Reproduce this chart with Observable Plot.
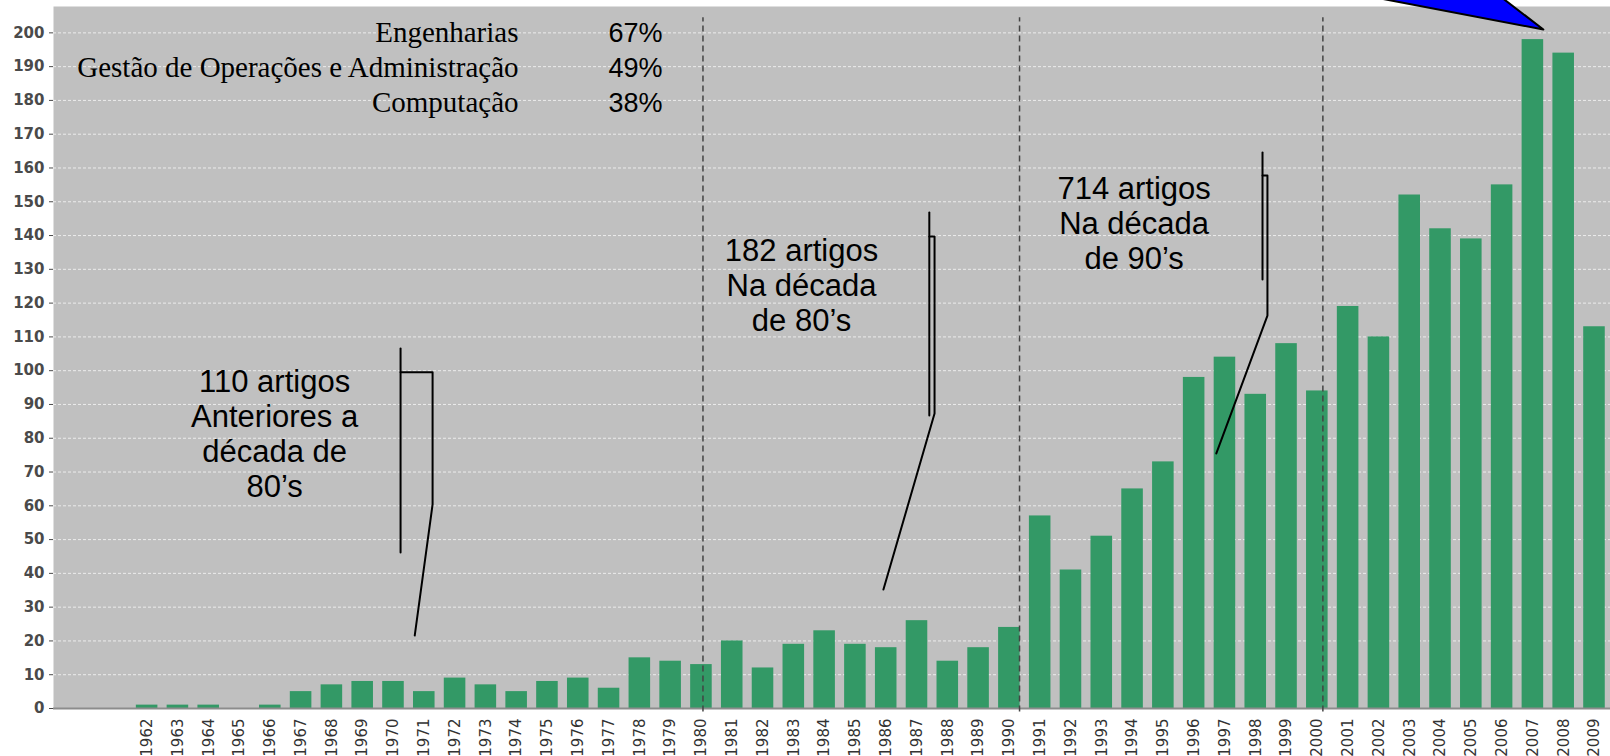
<!DOCTYPE html>
<html>
<head>
<meta charset="utf-8">
<script src="https://cdn.jsdelivr.net/npm/d3@7"></script>
<script src="https://cdn.jsdelivr.net/npm/@observablehq/plot@0.6"></script>
<style>
  html, body { margin: 0; padding: 0; background: #ffffff; overflow: hidden; }
  #chart svg { display: block; }
</style>
</head>
<body>
<div id="chart"></div>
<script>
// ---- data ----
const years = [1962, 1963, 1964, 1965, 1966, 1967, 1968, 1969, 1970, 1971,
               1972, 1973, 1974, 1975, 1976, 1977, 1978, 1979, 1980, 1981,
               1982, 1983, 1984, 1985, 1986, 1987, 1988, 1989, 1990, 1991,
               1992, 1993, 1994, 1995, 1996, 1997, 1998, 1999, 2000, 2001,
               2002, 2003, 2004, 2005, 2006, 2007, 2008, 2009];
const articles = [1, 1, 1, 0, 1, 5, 7, 8, 8, 5,
                  9, 7, 5, 8, 9, 6, 15, 14, 13, 20,
                  12, 19, 23, 19, 18, 26, 14, 18, 24, 57,
                  41, 51, 65, 73, 98, 104, 93, 108, 94, 119,
                  110, 152, 142, 139, 155, 198, 194, 113];
const yTicks = [0, 10, 20, 30, 40, 50, 60, 70, 80, 90, 100,
                110, 120, 130, 140, 150, 160, 170, 180, 190, 200];

const areaNames = ["Engenharias", "Gestão de Operações e Administração", "Computação"];
const areaShares = ["67%", "49%", "38%"];

const periodLabels = ["110 artigos\nAnteriores a\ndécada de\n80’s",
                      "182 artigos\nNa década\nde 80’s",
                      "714 artigos\nNa década\nde 90’s"];

// decade separators (in year units, as drawn)
const decadeMarkers = [1980.05, 1990.33, 2000.18];

// ---- annotation anchors (data units) ----
const periodAnchors = [[1966.14, 81.4], [1983.25, 125.5], [1994.05, 143.9]];
const legendX = [1974.06, 1976.98];
const legendY = [197.25, 186.9, 176.5];

// bracket shapes: [open vertical stroke], [hook + leader line]
const bracketStems = [
  [[1970.23, 106.6], [1970.23, 46.2]],
  [[1987.40, 146.8], [1987.40, 86.7]],
  [[1998.22, 164.6], [1998.22, 127.0]]
];
const bracketHooks = [
  [[1970.23, 99.5], [1971.27, 99.5], [1971.27, 60.4], [1970.69, 21.6]],
  [[1987.40, 139.7], [1987.57, 139.7], [1987.57, 87.3], [1985.91, 35.2]],
  [[1998.22, 157.8], [1998.38, 157.8], [1998.38, 116.3], [1996.72, 75.5]]
];
const arrowShape = [[2000.65, 212.6], [2007.34, 201.0], [2005.68, 212.6], [2000.65, 212.6]];

// ---- tables built from arrays ----
const table = years.map((year, i) => ({year, value: articles[i]}));
const periodTable = periodLabels.map((t, i) => ({text: t, x: periodAnchors[i][0], y: periodAnchors[i][1]}));
const legendTable = areaNames.map((name, i) => ({name, share: areaShares[i], y: legendY[i]}));
const stemTable = bracketStems.flatMap((pts, k) => pts.map(([x, y]) => ({k, x, y})));
const hookTable = bracketHooks.flatMap((pts, k) => pts.map(([x, y]) => ({k, x, y})));
const arrowTable = arrowShape.map(([x, y]) => ({x, y}));

const halfBar = 0.35;

const chart = Plot.plot({
  width: 1610,
  height: 756,
  marginLeft: 53,
  marginRight: 0,
  marginTop: 6,
  marginBottom: 48,
  x: {type: "linear", domain: [1958.96, 2009.52]},
  y: {domain: [0, 207.8]},
  style: {background: "#ffffff", overflow: "visible"},
  marks: [
    Plot.frame({fill: "#c0c0c0", stroke: "none"}),
    Plot.ruleY(yTicks.filter(d => d > 0), {stroke: "#ececec", strokeDasharray: "3,2", strokeWidth: 1}),
    Plot.rect(table, {x1: d => d.year - halfBar, x2: d => d.year + halfBar, y1: 0, y2: "value", fill: "#339966"}),
    Plot.ruleY([0], {stroke: "#8c8c8c", strokeWidth: 2}),
    Plot.ruleX(decadeMarkers, {x: d => d, y1: -1, y2: 204.5, stroke: "#444444", strokeWidth: 1.5, strokeDasharray: "6,4"}),
    Plot.axisY({ticks: yTicks, tickSize: 4, tickPadding: 5, fontSize: 15, fontWeight: "bold",
                fontFamily: "DejaVu Sans", color: "#4a4a4a", label: null}),
    Plot.axisX({ticks: years, tickFormat: "d", tickRotate: -90, tickSize: 0, tickPadding: 10,
                fontSize: 15, fontFamily: "DejaVu Sans", color: "#333333", label: null}),
    Plot.line(stemTable, {x: "x", y: "y", z: "k", stroke: "#000000", strokeWidth: 2}),
    Plot.line(hookTable, {x: "x", y: "y", z: "k", stroke: "#000000", strokeWidth: 2, curve: "linear"}),
    Plot.line(arrowTable, {x: "x", y: "y", stroke: "#000000", fill: "#0000ff", strokeWidth: 2}),
    Plot.text(periodTable, {x: "x", y: "y", text: "text", fontSize: 31, lineHeight: 1.13,
                            fontFamily: "Liberation Sans", fill: "#000000", textAnchor: "middle", lineAnchor: "middle"}),
    Plot.text(legendTable, {x: () => legendX[0], y: "y", text: "name", fontSize: 29,
                            fontFamily: "Liberation Serif", fill: "#000000", textAnchor: "end", lineAnchor: "bottom"}),
    Plot.text(legendTable, {x: () => legendX[1], y: "y", text: "share", fontSize: 27,
                            fontFamily: "Liberation Sans", fill: "#000000", textAnchor: "start", lineAnchor: "bottom"})
  ]
});
document.getElementById("chart").appendChild(chart);
</script>
</body>
</html>
